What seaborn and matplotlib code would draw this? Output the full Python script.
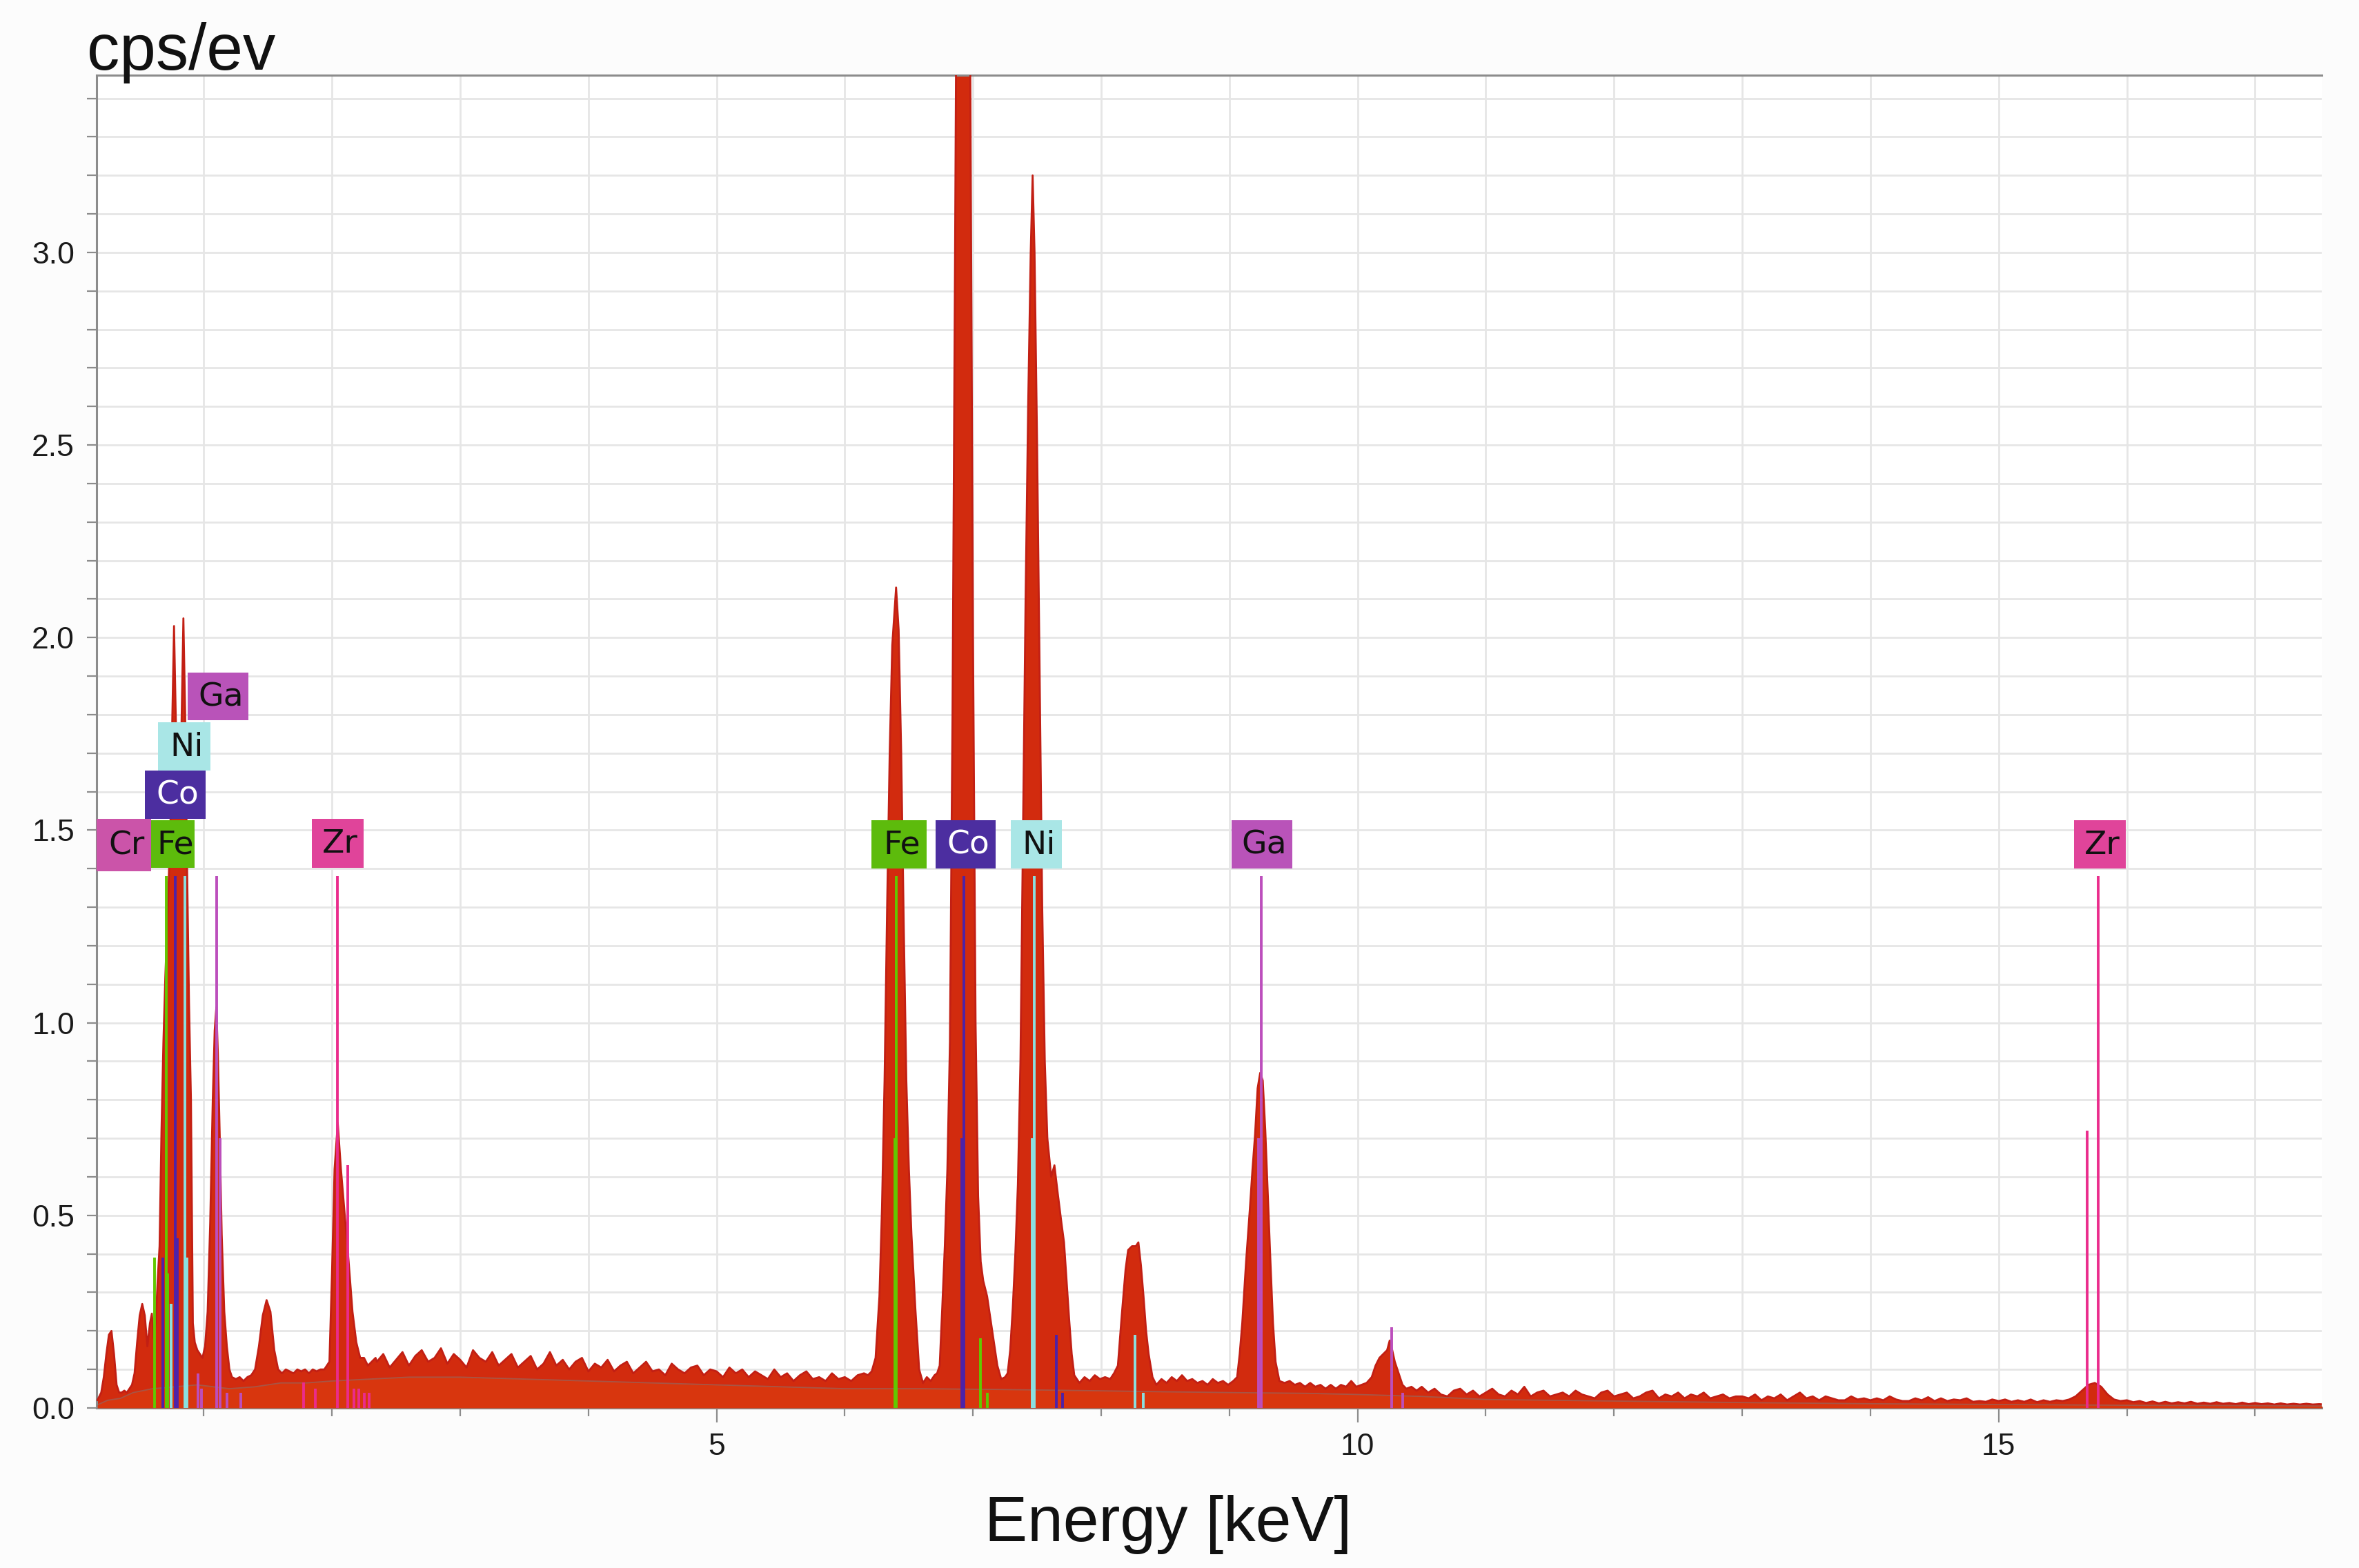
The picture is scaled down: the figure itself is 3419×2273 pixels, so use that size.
import numpy as np
import pandas as pd
import matplotlib
matplotlib.use('Agg')
import matplotlib.pyplot as plt
from matplotlib.patches import Rectangle
from matplotlib.ticker import MultipleLocator, FormatStrFormatter
import seaborn as sns

#%%
# spectrum, low energy part (C, O, Cr/Fe/Co/Ni L, Ga L, Al, Zr L)
low_kev = [0.17, 0.20, 0.22, 0.24, 0.26, 0.28, 0.30, 0.32, 0.34, 0.36,
           0.38, 0.40, 0.42, 0.44, 0.46, 0.48, 0.50, 0.52, 0.54, 0.56,
           0.58, 0.595, 0.61, 0.625, 0.64, 0.655, 0.67, 0.685, 0.70, 0.72,
           0.74, 0.755, 0.768, 0.78, 0.795, 0.81, 0.825, 0.841, 0.855, 0.87,
           0.885, 0.90, 0.915, 0.93, 0.95, 0.97, 0.99, 1.01, 1.03, 1.05,
           1.07, 1.085, 1.098, 1.11, 1.125, 1.14, 1.16, 1.18, 1.20, 1.22,
           1.25, 1.28, 1.31, 1.34, 1.37, 1.40, 1.43, 1.46, 1.49, 1.52,
           1.55, 1.58, 1.61, 1.64, 1.67, 1.70, 1.73, 1.76, 1.79, 1.82,
           1.85, 1.88, 1.91, 1.94, 1.98, 2.00, 2.02, 2.045, 2.07, 2.10,
           2.13, 2.16, 2.19, 2.22, 2.25, 2.28, 2.31, 2.34]
low_cps = [0.02, 0.04, 0.08, 0.14, 0.19, 0.20, 0.14, 0.06, 0.04, 0.04,
           0.045, 0.04, 0.05, 0.06, 0.09, 0.17, 0.24, 0.27, 0.24, 0.16,
           0.22, 0.245, 0.18, 0.22, 0.33, 0.42, 0.72, 0.95, 1.12, 1.30,
           1.52, 1.80, 2.03, 1.82, 1.58, 1.55, 1.75, 2.05, 1.80, 1.40,
           1.05, 0.80, 0.22, 0.17, 0.15, 0.14, 0.13, 0.16, 0.25, 0.48,
           0.80, 0.98, 1.04, 0.92, 0.70, 0.45, 0.25, 0.16, 0.10, 0.08,
           0.075, 0.08, 0.07, 0.08, 0.085, 0.10, 0.16, 0.24, 0.28, 0.25,
           0.15, 0.10, 0.09, 0.10, 0.095, 0.09, 0.10, 0.095, 0.10, 0.09,
           0.10, 0.095, 0.10, 0.10, 0.12, 0.35, 0.62, 0.74, 0.62, 0.50,
           0.38, 0.25, 0.17, 0.13, 0.13, 0.11, 0.12, 0.13]

# bremsstrahlung stretch 2.35 - 6.15 keV, 0.05 keV channels
mid_start, mid_step = 2.35, 0.05
mid_cps = [0.12, 0.14, 0.105, 0.125, 0.145, 0.11, 0.135, 0.15, 0.12, 0.13,
           0.155, 0.115, 0.14, 0.125, 0.105, 0.15, 0.13, 0.12, 0.145, 0.11,
           0.125, 0.14, 0.105, 0.12, 0.135, 0.10, 0.115, 0.145, 0.11, 0.125,
           0.10, 0.12, 0.13, 0.095, 0.115, 0.105, 0.125, 0.095, 0.11, 0.12,
           0.09, 0.105, 0.12, 0.095, 0.10, 0.085, 0.115, 0.10, 0.09, 0.105,
           0.11, 0.085, 0.10, 0.095, 0.08, 0.105, 0.09, 0.10, 0.08, 0.095,
           0.085, 0.075, 0.10, 0.08, 0.09, 0.07, 0.085, 0.095, 0.075, 0.08,
           0.07, 0.09, 0.075, 0.08, 0.07, 0.085, 0.09]

# K lines of Fe, Co, Ni, Ga
k_kev = [6.18, 6.21, 6.24, 6.27, 6.29, 6.31, 6.33, 6.35, 6.37, 6.40,
         6.42, 6.44, 6.46, 6.48, 6.50, 6.52, 6.55, 6.58, 6.61, 6.64,
         6.67, 6.70, 6.72, 6.74, 6.76, 6.78, 6.80, 6.82, 6.84, 6.86,
         6.88, 6.90, 6.92, 6.94, 6.96, 6.98, 7.00, 7.02, 7.04, 7.06,
         7.08, 7.11, 7.15, 7.19, 7.22, 7.25, 7.27, 7.29, 7.31, 7.33,
         7.35, 7.37, 7.39, 7.41, 7.43, 7.45, 7.465, 7.48, 7.50, 7.52,
         7.54, 7.56, 7.58, 7.61, 7.635, 7.66, 7.69, 7.71, 7.73, 7.75,
         7.77, 7.79, 7.83, 7.87, 7.91, 7.95, 7.99, 8.03, 8.07, 8.10,
         8.13, 8.16, 8.19, 8.21, 8.24, 8.27, 8.29, 8.31, 8.33, 8.35,
         8.37, 8.40, 8.43, 8.47, 8.51, 8.55, 8.59, 8.63, 8.67, 8.71,
         8.75, 8.79, 8.83, 8.87, 8.91, 8.95, 8.99, 9.03, 9.06, 9.08,
         9.10, 9.13, 9.16, 9.18, 9.20, 9.22, 9.24, 9.26, 9.28, 9.30,
         9.32, 9.34, 9.36, 9.39, 9.43, 9.47, 9.51, 9.55, 9.59, 9.63,
         9.67, 9.71, 9.75, 9.79, 9.83, 9.87, 9.91, 9.95, 9.99, 10.03,
         10.07, 10.11, 10.14, 10.17, 10.20, 10.23, 10.25, 10.27, 10.29, 10.32,
         10.35, 10.38, 10.42, 10.46, 10.50]
k_cps = [0.085, 0.095, 0.13, 0.29, 0.52, 0.85, 1.30, 1.70, 1.98, 2.13,
         2.02, 1.70, 1.25, 0.85, 0.62, 0.45, 0.26, 0.10, 0.065, 0.08,
         0.07, 0.085, 0.09, 0.11, 0.26, 0.42, 0.62, 0.95, 1.80, 3.00,
         4.30, 5.30, 5.70, 5.40, 4.50, 3.40, 2.00, 1.00, 0.55, 0.38,
         0.33, 0.29, 0.20, 0.11, 0.075, 0.08, 0.09, 0.15, 0.26, 0.40,
         0.58, 0.90, 1.50, 2.10, 2.60, 3.00, 3.20, 3.00, 2.50, 1.90,
         1.30, 0.90, 0.70, 0.60, 0.63, 0.56, 0.48, 0.43, 0.33, 0.23,
         0.14, 0.085, 0.065, 0.08, 0.07, 0.085, 0.075, 0.08, 0.075, 0.09,
         0.11, 0.24, 0.36, 0.41, 0.42, 0.42, 0.43, 0.37, 0.29, 0.20,
         0.14, 0.08, 0.06, 0.075, 0.065, 0.08, 0.07, 0.085, 0.07, 0.075,
         0.065, 0.07, 0.06, 0.075, 0.065, 0.07, 0.06, 0.07, 0.08, 0.14,
         0.22, 0.38, 0.52, 0.62, 0.71, 0.83, 0.87, 0.85, 0.72, 0.55,
         0.38, 0.22, 0.12, 0.07, 0.065, 0.07, 0.06, 0.065, 0.055, 0.065,
         0.055, 0.06, 0.05, 0.06, 0.05, 0.06, 0.055, 0.07, 0.055, 0.06,
         0.065, 0.08, 0.11, 0.13, 0.14, 0.15, 0.175, 0.15, 0.12, 0.09,
         0.06, 0.05, 0.055, 0.045, 0.055]

# high energy tail 10.55 - 17.55 keV, 0.05 keV channels
high_start, high_step = 10.55, 0.05
high_cps = [0.04, 0.05, 0.035, 0.03, 0.045, 0.05, 0.035, 0.045, 0.03, 0.04,
            0.05, 0.035, 0.03, 0.045, 0.035, 0.055, 0.03, 0.04, 0.045, 0.03,
            0.035, 0.04, 0.03, 0.045, 0.035, 0.03, 0.025, 0.04, 0.045, 0.03,
            0.035, 0.04, 0.025, 0.03, 0.04, 0.045, 0.025, 0.035, 0.03, 0.04,
            0.025, 0.035, 0.03, 0.04, 0.025, 0.03, 0.035, 0.025, 0.03, 0.03,
            0.025, 0.035, 0.02, 0.03, 0.025, 0.035, 0.02, 0.03, 0.04, 0.025,
            0.03, 0.02, 0.03, 0.025, 0.02, 0.02, 0.03, 0.022, 0.025, 0.02,
            0.025, 0.02, 0.03, 0.022, 0.018, 0.018, 0.025, 0.02, 0.028, 0.018,
            0.025, 0.018, 0.022, 0.02, 0.025, 0.016, 0.018, 0.016, 0.022, 0.018,
            0.022, 0.016, 0.02, 0.016, 0.022, 0.015, 0.02, 0.016, 0.02, 0.018,
            0.022, 0.03, 0.045, 0.06, 0.065, 0.055, 0.035, 0.022, 0.018, 0.02,
            0.015, 0.018, 0.013, 0.017, 0.012, 0.016, 0.012, 0.015, 0.012, 0.016,
            0.011, 0.014, 0.011, 0.015, 0.011, 0.013, 0.01, 0.014, 0.01, 0.013,
            0.01, 0.012, 0.009, 0.012, 0.009, 0.011, 0.009, 0.011, 0.009, 0.01,
            0.009]

# grey background trace
bg_kev = [0.17, 0.25, 0.35, 0.45, 0.6, 0.95, 1.2, 1.4, 1.6, 1.8, 2.0, 2.3,
          2.6, 3.0, 3.5, 4.0, 4.5, 5.0, 5.5, 6.0, 6.6, 7.2, 7.9, 8.5, 9.0,
          9.6, 10.0, 10.5, 11.0, 12.0, 13.0, 14.0, 15.0, 16.0, 17.0, 17.55]
bg_cps = [0.008, 0.02, 0.025, 0.04, 0.05, 0.06, 0.05, 0.055, 0.065, 0.065,
          0.07, 0.075, 0.08, 0.08, 0.075, 0.07, 0.065, 0.06, 0.055, 0.05,
          0.05, 0.048, 0.045, 0.042, 0.04, 0.038, 0.035, 0.03, 0.022, 0.018,
          0.014, 0.011, 0.009, 0.007, 0.006, 0.005]

# element marker lines (keV, height)
fe_kev = [0.615, 0.705, 0.718, 6.391, 6.404, 7.058, 7.11]
fe_h = [0.39, 1.38, 0.35, 0.70, 1.38, 0.18, 0.04]
co_kev = [0.678, 0.776, 0.791, 6.915, 6.930, 7.649, 7.70]
co_h = [0.39, 1.38, 0.44, 0.70, 1.38, 0.19, 0.04]
ni_kev = [0.743, 0.851, 0.868, 7.461, 7.478, 8.265, 8.33]
ni_h = [0.27, 1.38, 0.39, 0.70, 1.38, 0.19, 0.04]
ga_kev = [0.957, 0.984, 1.098, 1.125, 1.18, 1.29, 9.225, 9.251, 10.264, 10.35]
ga_h = [0.09, 0.05, 1.38, 0.70, 0.04, 0.04, 0.70, 1.38, 0.21, 0.04]
zr_kev = [1.78, 1.87, 2.042, 2.124, 2.17, 2.21, 2.25, 2.29, 15.69, 15.775]
zr_h = [0.067, 0.05, 1.38, 0.63, 0.05, 0.05, 0.04, 0.04, 0.72, 1.38]

colors = {'Cr': '#cb54a9', 'Fe': '#5dbb0c', 'Co': '#4c2ea0',
          'Ni': '#a9e6e6', 'Ga': '#b953b9', 'Zr': '#e0449a'}
line_colors = {'Fe': '#62c800', 'Co': '#4d22a8', 'Ni': '#8ae0e0',
               'Ga': '#bc4ebc', 'Zr': '#ea2c8c'}
text_colors = {'Co': 'white'}

# label boxes: element, left keV, right keV, bottom, top
boxes = [('Ga', 0.873, 1.349, 1.785, 1.909),
         ('Ni', 0.643, 1.052, 1.654, 1.781),
         ('Co', 0.541, 1.014, 1.529, 1.654),
         ('Fe', 0.591, 0.927, 1.403, 1.525),
         ('Cr', 0.164, 0.591, 1.394, 1.529),
         ('Zr', 1.842, 2.245, 1.403, 1.529),
         ('Fe', 6.21, 6.636, 1.400, 1.525),
         ('Co', 6.708, 7.175, 1.400, 1.525),
         ('Ni', 7.294, 7.694, 1.400, 1.525),
         ('Ga', 9.017, 9.488, 1.400, 1.525),
         ('Zr', 15.59, 15.99, 1.400, 1.525)]

#%%
mid_kev = np.round(mid_start + mid_step * np.arange(len(mid_cps)), 3)
high_kev = np.round(high_start + high_step * np.arange(len(high_cps)), 3)
spec = pd.DataFrame({'kev': np.concatenate([low_kev, mid_kev, k_kev, high_kev]),
                     'cps': np.concatenate([low_cps, mid_cps, k_cps, high_cps])})
bg = pd.DataFrame({'kev': bg_kev, 'cps': bg_cps})

sns.set_theme(style='whitegrid')
plt.rcParams['font.family'] = ['Liberation Sans', 'DejaVu Sans']

fig = plt.figure(figsize=(34.19, 22.73), dpi=100, facecolor='#fcfcfc')
ax = fig.add_axes([0.04095, 0.10207, 0.94325, 0.84997])
ax.set_facecolor('white')

RED = '#d22b0e'
ax.fill_between(spec['kev'], 0, spec['cps'], color=RED, lw=0, zorder=2)
sns.lineplot(data=spec, x='kev', y='cps', color='#c21f14', lw=2.0,
             estimator=None, sort=False, ax=ax, zorder=3)
ax.fill_between(bg['kev'], 0, bg['cps'], color='#d8360e', lw=0, zorder=3)
sns.lineplot(data=bg, x='kev', y='cps', color='#7d7d7d', lw=1.3, alpha=0.5,
             estimator=None, sort=False, ax=ax, zorder=4)

for el, kev, h in [('Fe', fe_kev, fe_h), ('Co', co_kev, co_h), ('Ni', ni_kev, ni_h),
                   ('Ga', ga_kev, ga_h), ('Zr', zr_kev, zr_h)]:
    ax.vlines(kev, 0, h, color=line_colors[el], lw=2.8, zorder=5)

for el, x0, x1, y0, y1 in boxes:
    ax.add_patch(Rectangle((x0, y0), x1 - x0, y1 - y0, facecolor=colors[el],
                           edgecolor='none', zorder=6))
    ax.text((x0 + x1) / 2 + 0.02, (y0 + y1) / 2 - 0.002, el, ha='center', va='center',
            fontsize=34, family='DejaVu Sans', color=text_colors.get(el, '#111111'),
            zorder=7)

ax.set_xlim(0.164, 17.52)
ax.set_ylim(0, 3.46)
ax.xaxis.set_major_locator(MultipleLocator(5))
ax.xaxis.set_minor_locator(MultipleLocator(1))
ax.yaxis.set_major_locator(MultipleLocator(0.5))
ax.yaxis.set_minor_locator(MultipleLocator(0.1))
ax.yaxis.set_major_formatter(FormatStrFormatter('%.1f'))

ax.grid(True, which='both', color='#e6e6e6', lw=2.0, zorder=0)
ax.set_axisbelow(True)
ax.tick_params(axis='y', which='both', left=True, length=10, width=1.6,
               color='#8c8c8c', pad=13, labelsize=32, labelcolor='#1a1a1a')
ax.tick_params(axis='x', which='major', bottom=True, length=15, width=1.6,
               color='#8c8c8c', pad=11, labelsize=32, labelcolor='#1a1a1a')
ax.tick_params(axis='x', which='minor', bottom=True, length=8.6, width=1.6,
               color='#8c8c8c')

for side in ['left', 'bottom', 'top']:
    ax.spines[side].set_visible(True)
    ax.spines[side].set_color('#8c8c8c')
    ax.spines[side].set_linewidth(2.2)
ax.spines['right'].set_visible(False)
ax.set_xlabel('')
ax.set_ylabel('')

fig.text(126 / 3419, 1 - 101 / 2273, 'cps/ev', ha='left', va='baseline',
         fontsize=68, color='#111111')
fig.text(1693 / 3419, 1 - 2234 / 2273, 'Energy [keV]', ha='center', va='baseline',
         fontsize=67, color='#111111')

fig.savefig('out.png', dpi=100, facecolor=fig.get_facecolor())
